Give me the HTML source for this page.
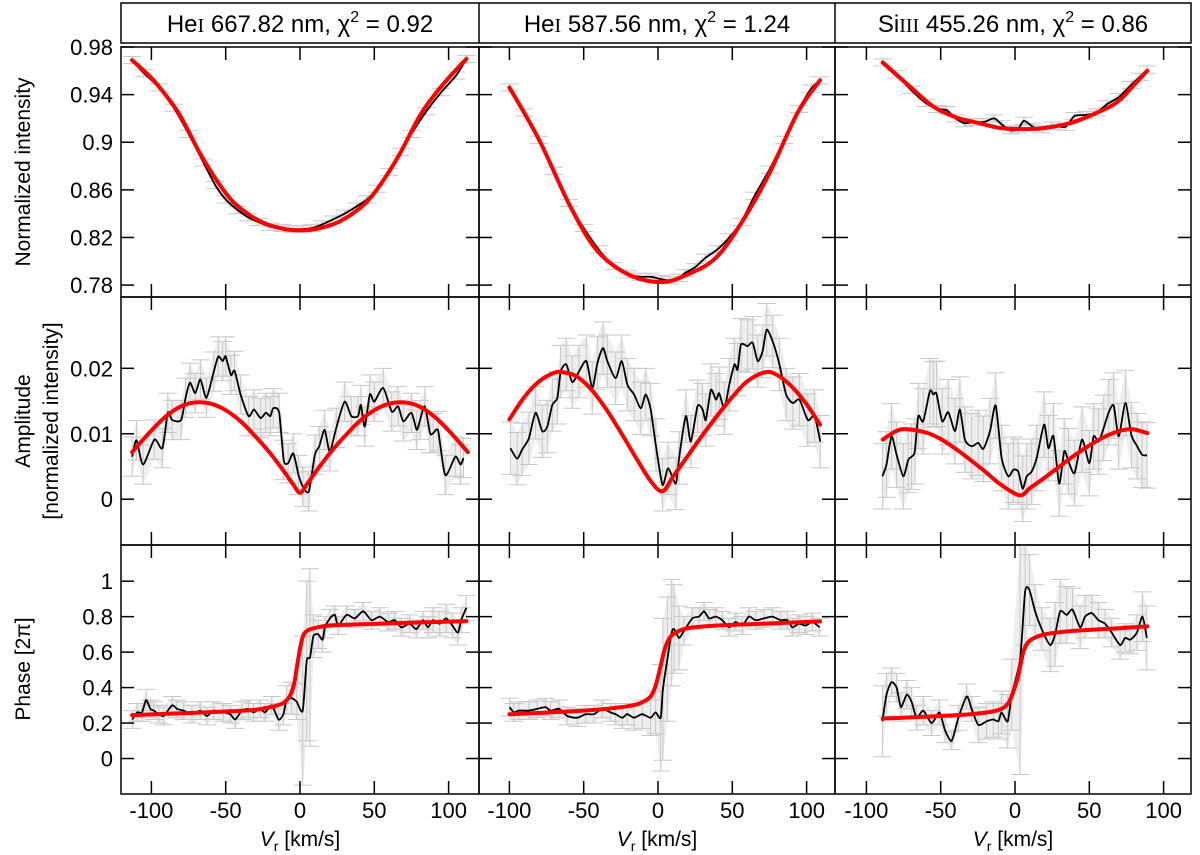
<!DOCTYPE html>
<html><head><meta charset="utf-8"><title>Line profile fits</title>
<style>
html,body{margin:0;padding:0;background:#fff;}
svg{display:block;font-family:"Liberation Sans",sans-serif;}
</style></head>
<body>
<svg id="chart" width="1200" height="855" viewBox="0 0 1200 855" xmlns="http://www.w3.org/2000/svg">
<g id="titles">
  <rect x="121" y="3" width="1070" height="40" fill="none" stroke="#000" stroke-width="1.5"/>
  <line x1="479" y1="3" x2="479" y2="43" stroke="#000" stroke-width="1.5"/>
  <line x1="835" y1="3" x2="835" y2="43" stroke="#000" stroke-width="1.5"/>
  <text x="300" y="32" font-size="24" text-anchor="middle">He<tspan font-family="Liberation Serif,serif" font-size="20">I</tspan> 667.82 nm, χ<tspan dy="-10" font-size="16">2</tspan><tspan dy="10"> = 0.92</tspan></text>
  <text x="657" y="32" font-size="24" text-anchor="middle">He<tspan font-family="Liberation Serif,serif" font-size="20">I</tspan> 587.56 nm, χ<tspan dy="-10" font-size="16">2</tspan><tspan dy="10"> = 1.24</tspan></text>
  <text x="1013" y="32" font-size="24" text-anchor="middle">Si<tspan font-family="Liberation Serif,serif" font-size="20">III</tspan> 455.26 nm, χ<tspan dy="-10" font-size="16">2</tspan><tspan dy="10"> = 0.86</tspan></text>
</g>
<g id="plots"></g>
<g id="labels">
  <text transform="translate(30,172) rotate(-90)" font-size="21" text-anchor="middle">Normalized intensity</text>
  <text transform="translate(30,421) rotate(-90)" font-size="21" text-anchor="middle">Amplitude</text>
  <text transform="translate(58,421) rotate(-90)" font-size="21" text-anchor="middle">[normalized intensity]</text>
  <text transform="translate(30,669) rotate(-90)" font-size="21" text-anchor="middle">Phase [2π]</text>
  <text x="300" y="846" font-size="21" text-anchor="middle"><tspan font-style="italic">V</tspan><tspan dy="5" font-size="14">r</tspan><tspan dy="-5"> [km/s]</tspan></text>
  <text x="657" y="846" font-size="21" text-anchor="middle"><tspan font-style="italic">V</tspan><tspan dy="5" font-size="14">r</tspan><tspan dy="-5"> [km/s]</tspan></text>
  <text x="1013" y="846" font-size="21" text-anchor="middle"><tspan font-style="italic">V</tspan><tspan dy="5" font-size="14">r</tspan><tspan dy="-5"> [km/s]</tspan></text>
</g>
</svg>
<script>
// ---------- data ----------
const xTicks = [-100,-50,0,50,100];
const yTicksTop = [0.78,0.82,0.86,0.9,0.94,0.98];
const yTickLabelsTop = ["0.78","0.82","0.86","0.9","0.94","0.98"];
const yTicksMid = [0,0.01,0.02];
const yTickLabelsMid = ["0","0.01","0.02"];
const yTicksBot = [0,0.2,0.4,0.6,0.8,1];
const yTickLabelsBot = ["0","0.2","0.4","0.6","0.8","1"];

// top row: normalized intensity
const topV1 = [-113,-105,-95,-85,-75,-65,-57,-50,-42,-35,-28,-20,-12,-5,2,8,15,22,30,38,45,52,60,68,75,85,95,105,112];
const topObs1 = [0.969,0.958,0.946,0.929,0.907,0.883,0.864,0.852,0.843,0.837,0.833,0.829,0.828,0.827,0.827,0.828,0.831,0.835,0.840,0.846,0.852,0.861,0.875,0.892,0.907,0.926,0.942,0.956,0.970];
const topFitV1 = [-113,-100,-90,-80,-67,-55,-45,-33,-22,-10,0,10,22,33,45,55,67,80,90,100,112];
const topFit1 = [0.969,0.954,0.939,0.921,0.890,0.866,0.850,0.838,0.831,0.827,0.826,0.827,0.831,0.838,0.850,0.866,0.890,0.921,0.939,0.954,0.970];
const topV2 = [-100,-90,-80,-70,-60,-50,-40,-30,-20,-12,-5,2,8,14,18,25,32,40,48,56,65,75,85,95,103,109];
const topObs2 = [0.946,0.925,0.902,0.876,0.849,0.828,0.810,0.796,0.789,0.787,0.787,0.785,0.784,0.786,0.790,0.795,0.803,0.810,0.820,0.833,0.855,0.877,0.902,0.928,0.945,0.952];
const topFitV2 = [-100,-80,-59,-41,-20,2,20,39,57,75,94,109];
const topFit2 = [0.946,0.902,0.846,0.809,0.789,0.7825,0.789,0.803,0.834,0.874,0.925,0.952];
const topV3 = [-89,-80,-70,-60,-52,-46,-40,-34,-28,-21,-14,-9,-3,2,6,12,18,25,34,40,48,55,62,70,78,84,89];
const topObs3 = [0.967,0.957,0.944,0.933,0.928,0.927,0.920,0.916,0.917,0.917,0.920,0.915,0.910,0.911,0.918,0.913,0.911,0.914,0.913,0.922,0.923,0.925,0.932,0.938,0.948,0.955,0.961];
const topFitV3 = [-89,-70,-55,-40,-24,-10,6,20,37,50,68,80,89];
const topFit3 = [0.967,0.946,0.930,0.921,0.916,0.912,0.911,0.912,0.916,0.922,0.933,0.948,0.960];
const topErr = [0.003,0.003,0.003];

// middle row: amplitude
const midV1 = [-113,-110,-105.6,-98,-92.6,-89,-86,-80,-77,-74,-70.5,-67,-63,-58,-55,-52,-50,-46.5,-44,-40,-34.6,-31,-26.5,-23,-20,-18,-14,-11,-8,-4.5,-1,2,6,10,13,16.6,20,24.4,30,34.5,39,41,43.6,47,50,56,61.7,66,69.5,75,78.5,80.8,84,87.5,89.7,93,97.7,104.5,108,110];
const midObs1 = [0.0065,0.0090,0.0053,0.0091,0.0078,0.0132,0.0121,0.0121,0.0155,0.0178,0.0162,0.0183,0.0155,0.0195,0.0218,0.0211,0.0218,0.0190,0.0196,0.0160,0.0127,0.0137,0.0124,0.0132,0.0127,0.0139,0.0132,0.0060,0.0055,0.0070,0.0037,0.0019,0.0012,0.0068,0.0081,0.0106,0.0073,0.0109,0.0149,0.0127,0.0127,0.0144,0.0111,0.0160,0.0149,0.0170,0.0134,0.0142,0.0119,0.0132,0.0106,0.0121,0.0142,0.0101,0.0101,0.0104,0.0037,0.0065,0.0053,0.0063];
const midFitV1 = [-113,-100,-90,-80,-70,-60,-50,-40,-30,-20,-10,-5,0,5,10,20,30,40,50,60,70,80,90,100,113];
const midFit1 = [0.0072,0.0105,0.0127,0.0142,0.0148,0.0146,0.0136,0.0119,0.0096,0.0070,0.0040,0.0024,0.0010,0.0024,0.0040,0.0070,0.0096,0.0119,0.0136,0.0146,0.0148,0.0142,0.0127,0.0105,0.0072];
const midV2 = [-99.3,-94.8,-91.4,-86.9,-82.4,-77.9,-74.5,-71.1,-67.7,-65.5,-61.7,-57.7,-53.2,-48.2,-44.2,-40.8,-37,-34.1,-28.5,-24.4,-20.6,-16.1,-11.6,-8.3,-4.9,-1.5,3,6.8,12,14.2,18.7,22.1,26.6,30,32.2,35.6,39,41.2,44.6,48,51.4,53.6,55.8,60.3,63.7,67.1,70.4,73.1,77.2,81.7,86.2,90.7,95.2,100.8,105.3,109.2];
const midObs2 = [0.0078,0.0062,0.0076,0.0093,0.0132,0.0104,0.0111,0.0144,0.0155,0.0195,0.0206,0.0179,0.0195,0.0211,0.0170,0.0208,0.0231,0.0211,0.0185,0.0211,0.0175,0.0160,0.0139,0.0160,0.0137,0.0083,0.0022,0.0047,0.0024,0.0063,0.0127,0.0088,0.0142,0.0137,0.0121,0.0167,0.0152,0.0162,0.0139,0.0175,0.0206,0.0198,0.0236,0.0234,0.0239,0.0211,0.0226,0.0259,0.0241,0.0206,0.0160,0.0147,0.0152,0.0121,0.0127,0.0088];
const midFitV2 = [-100,-90,-80,-70,-64,-55,-45,-35,-25,-15,-5,3,10,20,30,40,50,60,72,80,90,100,109];
const midFit2 = [0.0122,0.0156,0.0180,0.0193,0.0194,0.0188,0.0168,0.0138,0.0102,0.0064,0.0028,0.0012,0.0034,0.0066,0.0098,0.0128,0.0156,0.0180,0.0194,0.0190,0.0172,0.0145,0.0114];
const midV3 = [-89.2,-86.5,-83.1,-79.7,-75.2,-71.9,-69.6,-67.4,-65.1,-61.8,-57.3,-55,-52.8,-49,-44.9,-40.4,-37.1,-33.7,-29.2,-24.7,-21.3,-16.8,-13,-9,-4.5,-1.1,2.2,5.2,7.9,11.2,14.6,19.6,22.5,25.9,29.7,33.1,36,40.1,45.1,50,52.9,56.3,59.7,63.1,66.4,69.8,74.3,78.3,82.2,85.5,88.9];
const midObs3 = [0.0035,0.0053,0.0096,0.0068,0.0035,0.0060,0.0065,0.0073,0.0127,0.0119,0.0165,0.0160,0.0161,0.0119,0.0133,0.0104,0.0137,0.0091,0.0081,0.0086,0.0077,0.0104,0.0143,0.0063,0.0035,0.0045,0.0042,0.0016,0.0035,0.0042,0.0063,0.0114,0.0078,0.0096,0.0024,0.0073,0.0058,0.0040,0.0091,0.0055,0.0096,0.0088,0.0109,0.0133,0.0143,0.0096,0.0147,0.0098,0.0081,0.0068,0.0067];
const midFitV3 = [-89,-80,-73,-60,-50,-40,-30,-20,-10,3,10,20,30,40,50,60,70,79,89];
const midFit3 = [0.0091,0.0104,0.0107,0.0102,0.0092,0.0077,0.0060,0.0042,0.0023,0.0006,0.0017,0.0033,0.0050,0.0067,0.0082,0.0095,0.0104,0.0107,0.0101];
const midErr = [0.0030,0.0040,0.0050];

// bottom row: phase
const botV1 = [-112.9,-109.6,-106.3,-103.6,-100.7,-98.4,-95,-91.7,-86.1,-82.8,-78.3,-72.7,-67.1,-62.6,-58.2,-51.5,-47,-43.6,-39.1,-34.7,-31.3,-26.8,-23.5,-19,-14.5,-11.2,-9,-5.6,-2.2,1.8,4.5,6.7,9,12.3,15.2,16.8,20.1,23.5,25.7,31.3,36.9,42.5,48.1,53.7,59.3,63.8,68.2,73.8,78.3,82.8,86.1,89.5,94,98.4,102.5,106.3,108.5,111.9];
const botObs1 = [0.22,0.26,0.26,0.33,0.28,0.27,0.25,0.24,0.30,0.28,0.27,0.25,0.27,0.24,0.27,0.26,0.25,0.22,0.27,0.28,0.26,0.28,0.26,0.30,0.22,0.25,0.33,0.34,0.32,0.27,0.55,0.57,0.69,0.70,0.67,0.74,0.79,0.81,0.75,0.81,0.79,0.83,0.78,0.80,0.77,0.78,0.74,0.76,0.73,0.78,0.74,0.78,0.76,0.79,0.75,0.71,0.78,0.85];
const botErr1 = [0.05,0.05,0.05,0.06,0.05,0.05,0.05,0.05,0.05,0.05,0.05,0.05,0.05,0.05,0.05,0.05,0.05,0.05,0.05,0.05,0.05,0.05,0.05,0.05,0.06,0.06,0.08,0.09,0.10,0.42,0.45,0.50,0.12,0.08,0.07,0.06,0.05,0.05,0.05,0.05,0.05,0.05,0.05,0.05,0.05,0.05,0.05,0.05,0.05,0.05,0.06,0.07,0.07,0.08,0.07,0.07,0.07,0.07];
const botFitV1 = [-113,-80,-50,-30,-20,-12,-7,-4,-2,0,2,4,7,12,20,40,70,112];
const botFit1 = [0.245,0.255,0.265,0.275,0.29,0.31,0.35,0.42,0.52,0.62,0.69,0.715,0.73,0.74,0.75,0.757,0.765,0.775];
const botV2 = [-99.9,-97,-93.7,-86.9,-81.3,-75.7,-72.3,-66.7,-61.1,-54.3,-48.7,-43.1,-37.5,-31.9,-28.5,-24,-20.7,-16.2,-10.6,-5,-1.6,1.8,3.3,6.3,9.2,10.8,14.1,17.5,23.1,27.6,31,34.3,38.8,43.3,47.8,52.3,56.8,61.2,65.7,71.3,77,82.6,87.1,90.4,94.9,99.4,103.9,108.8];
const botObs2 = [0.29,0.26,0.27,0.27,0.28,0.29,0.27,0.28,0.24,0.23,0.25,0.25,0.28,0.26,0.25,0.23,0.25,0.23,0.25,0.23,0.26,0.23,0.39,0.56,0.71,0.73,0.68,0.72,0.79,0.80,0.83,0.79,0.80,0.78,0.74,0.77,0.75,0.80,0.78,0.79,0.80,0.78,0.78,0.74,0.76,0.75,0.77,0.74];
const botErr2 = [0.05,0.05,0.05,0.05,0.05,0.05,0.05,0.05,0.05,0.05,0.05,0.05,0.05,0.05,0.06,0.06,0.06,0.07,0.08,0.10,0.12,0.30,0.40,0.35,0.30,0.25,0.18,0.08,0.06,0.05,0.05,0.05,0.05,0.05,0.05,0.05,0.05,0.05,0.05,0.05,0.05,0.05,0.05,0.05,0.05,0.05,0.05,0.05];
const botFitV2 = [-100,-50,-20,-10,-5,-2,0,2,4,6,10,20,40,70,109];
const botFit2 = [0.25,0.27,0.295,0.32,0.35,0.40,0.46,0.53,0.60,0.65,0.70,0.735,0.75,0.76,0.773];
const botV3 = [-89.2,-86.5,-83.1,-79.7,-76.8,-72.9,-69.6,-66.2,-61.7,-56.1,-50.9,-47.1,-42.6,-38.1,-32.5,-29.2,-24.7,-19.1,-14.6,-11.2,-9,-4.9,-2.2,3.4,6.8,9.7,13.5,18,23.6,27,30.4,34.8,38.7,43.8,47.2,51.7,56.2,60.6,65.1,70.7,74.1,77.5,82,85.8,88.7];
const botObs3 = [0.21,0.36,0.43,0.40,0.29,0.36,0.32,0.23,0.27,0.20,0.26,0.16,0.10,0.23,0.35,0.28,0.19,0.21,0.22,0.21,0.26,0.21,0.36,0.56,0.94,0.95,0.83,0.73,0.64,0.70,0.83,0.81,0.84,0.74,0.80,0.82,0.78,0.76,0.71,0.64,0.68,0.67,0.71,0.80,0.68];
const botErr3 = [0.20,0.12,0.08,0.08,0.08,0.08,0.08,0.07,0.08,0.07,0.07,0.07,0.05,0.07,0.07,0.07,0.10,0.10,0.10,0.10,0.12,0.15,0.20,0.65,0.30,0.20,0.15,0.12,0.15,0.18,0.18,0.16,0.12,0.12,0.12,0.10,0.10,0.08,0.08,0.08,0.08,0.08,0.10,0.14,0.18];
const botFitV3 = [-89,-50,-30,-15,-8,-4,-1,2,4,6,10,20,40,70,89];
const botFit3 = [0.225,0.24,0.25,0.265,0.285,0.32,0.38,0.46,0.54,0.61,0.665,0.70,0.72,0.735,0.745];

// ---------- geometry ----------
const cols = [{x0:121,x1:479,z:300},{x0:479,x1:835,z:658},{x0:835,x1:1191,z:1015}];
const KX = 1.486;
const rows = [
  {y0:47,y1:297,top:0.98,bot:0.77},
  {y0:297,y1:545,top:0.0309,bot:-0.007},
  {y0:545,y1:794,top:1.204,bot:-0.2}
];
function xS(c,v){return cols[c].z + v*KX;}
function yS(r,val){const R=rows[r];return R.y0+(R.top-val)/(R.top-R.bot)*(R.y1-R.y0);}

// smooth path through points (Catmull-Rom -> cubic Bezier)
function smoothPath(pts,t){
  let d='M'+pts[0][0].toFixed(1)+','+pts[0][1].toFixed(1);
  for(let i=0;i<pts.length-1;i++){
    const p0=pts[Math.max(0,i-1)],p1=pts[i],p2=pts[i+1],p3=pts[Math.min(pts.length-1,i+2)];
    const c1x=p1[0]+(p2[0]-p0[0])*t, c1y=p1[1]+(p2[1]-p0[1])*t;
    const c2x=p2[0]-(p3[0]-p1[0])*t, c2y=p2[1]-(p3[1]-p1[1])*t;
    d+=' C'+c1x.toFixed(1)+','+c1y.toFixed(1)+' '+c2x.toFixed(1)+','+c2y.toFixed(1)+' '+p2[0].toFixed(1)+','+p2[1].toFixed(1);
  }
  return d;
}

const NS="http://www.w3.org/2000/svg";
const plots=document.getElementById('plots');
function mk(tag,attrs,parent){const e=document.createElementNS(NS,tag);for(const k in attrs)e.setAttribute(k,attrs[k]);(parent||plots).appendChild(e);return e;}

const panels = [
  [[topV1,topObs1,null,topFitV1,topFit1,topErr[0]],[topV2,topObs2,null,topFitV2,topFit2,topErr[1]],[topV3,topObs3,null,topFitV3,topFit3,topErr[2]]],
  [[midV1,midObs1,null,midFitV1,midFit1,midErr[0]],[midV2,midObs2,null,midFitV2,midFit2,midErr[1]],[midV3,midObs3,null,midFitV3,midFit3,midErr[2]]],
  [[botV1,botObs1,botErr1,botFitV1,botFit1,0],[botV2,botObs2,botErr2,botFitV2,botFit2,0],[botV3,botObs3,botErr3,botFitV3,botFit3,0]]
];
const rowNames=['intensity','amplitude','phase'];

for(let r=0;r<3;r++){
  for(let c=0;c<3;c++){
    const [vs,obs,errArr,fv,fit,errC]=panels[r][c];
    const g=mk('g',{});
    
    
    const cid='clip'+r+c;
    const cp=mk('clipPath',{id:cid},g);
    mk('rect',{x:cols[c].x0,y:rows[r].y0,width:cols[c].x1-cols[c].x0,height:rows[r].y1-rows[r].y0},cp);
    const inner=mk('g',{'clip-path':'url(#'+cid+')'},g);
    const eb=mk('g',{},inner);
    
    
    let up=[],dn=[];
    for(let i=0;i<vs.length;i++){
      const e=errArr?errArr[i]:errC;
      const x=xS(c,vs[i]);
      up.push(x.toFixed(1)+','+yS(r,obs[i]+e).toFixed(1));
      dn.unshift(x.toFixed(1)+','+yS(r,obs[i]-e).toFixed(1));
    }
    mk('polygon',{points:up.concat(dn).join(' '),fill:'#eeeeee',stroke:'none'},eb);
    for(let i=0;i<vs.length;i++){
      const e=errArr?errArr[i]:errC;
      const x=xS(c,vs[i]);
      const ya=yS(r,obs[i]+e), yb=yS(r,obs[i]-e);
      mk('line',{x1:x,y1:ya,x2:x,y2:yb,stroke:'#c8c8c8','stroke-width':1},eb);
      mk('line',{x1:x-9,y1:ya,x2:x+9,y2:ya,stroke:'#c8c8c8','stroke-width':1},eb);
      mk('line',{x1:x-9,y1:yb,x2:x+9,y2:yb,stroke:'#c8c8c8','stroke-width':1},eb);
    }
    const op=mk('path',{d:smoothPath(vs.map((v,i)=>[xS(c,v),yS(r,obs[i])]),0.12),fill:'none',stroke:'#000','stroke-width':1.8,'stroke-linejoin':'round'},inner);
    
    
    const fp=mk('path',{d:smoothPath(fv.map((v,i)=>[xS(c,v),yS(r,fit[i])]),0.17),fill:'none',stroke:'#ff0000','stroke-width':4,'stroke-linejoin':'round','stroke-linecap':'round'},inner);
    
    
    const fr=mk('rect',{x:cols[c].x0,y:rows[r].y0,width:cols[c].x1-cols[c].x0,height:rows[r].y1-rows[r].y0,fill:'none',stroke:'#000','stroke-width':1.5},g);
    
    
    xTicks.forEach(t=>{
      const x=xS(c,t);
      mk('line',{x1:x,y1:rows[r].y0,x2:x,y2:rows[r].y0+13,stroke:'#000','stroke-width':1.5},g);
      mk('line',{x1:x,y1:rows[r].y1,x2:x,y2:rows[r].y1-13,stroke:'#000','stroke-width':1.5},g);
    });
    const yt=[yTicksTop,yTicksMid,yTicksBot][r];
    yt.forEach(t=>{
      const y=yS(r,t);
      mk('line',{x1:cols[c].x0,y1:y,x2:cols[c].x0+13,y2:y,stroke:'#000','stroke-width':1.5},g);
      mk('line',{x1:cols[c].x1,y1:y,x2:cols[c].x1-13,y2:y,stroke:'#000','stroke-width':1.5},g);
    });
  }
}
[[yTicksTop,yTickLabelsTop],[yTicksMid,yTickLabelsMid],[yTicksBot,yTickLabelsBot]].forEach((p,r)=>{
  p[0].forEach((t,i)=>{
    const tx=mk('text',{x:113,y:yS(r,t)+8,'font-size':22,'text-anchor':'end'});
    
    
    tx.textContent=p[1][i];
  });
});
for(let c=0;c<3;c++){
  xTicks.forEach(t=>{
    const tx=mk('text',{x:xS(c,t),y:818,'font-size':22,'text-anchor':'middle'});
    
    
    tx.textContent=String(t);
  });
}
</script>
</body></html>
